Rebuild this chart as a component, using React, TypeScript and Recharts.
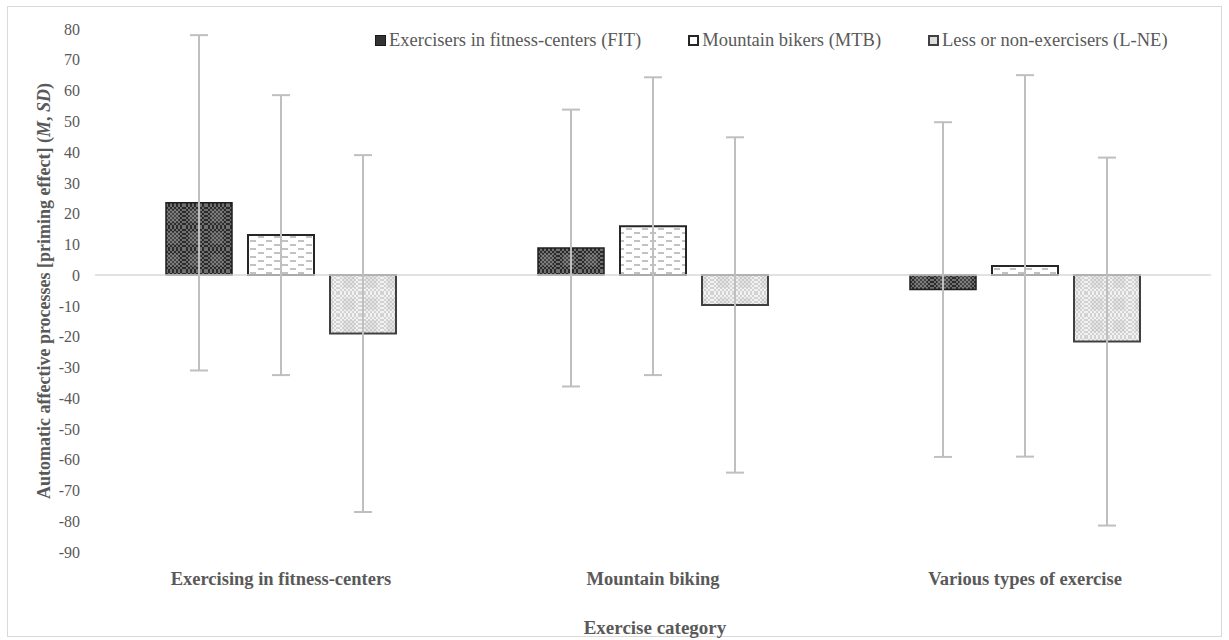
import { Bar, BarChart, ErrorBar, Legend, ReferenceLine, XAxis, YAxis } from "recharts";

const categories = ["Exercising in fitness-centers", "Mountain biking", "Various types of exercise"];

// means and standard deviations per group
const fitMeans = [23.5, 8.8, -4.7];
const fitSds = [54.5, 45, 54.4];
const mtbMeans = [13, 15.9, 3];
const mtbSds = [45.5, 48.4, 62];
const lneMeans = [-19, -9.7, -21.6];
const lneSds = [58, 54.5, 59.8];

const groupNames = [
  "Exercisers in fitness-centers (FIT)",
  "Mountain bikers (MTB)",
  "Less or non-exercisers (L-NE)",
];

const yTicks = [80, 70, 60, 50, 40, 30, 20, 10, 0, -10, -20, -30, -40, -50, -60, -70, -80, -90];

const data = categories.map((category, i) => ({
  category,
  fit: fitMeans[i],
  fitSd: fitSds[i],
  mtb: mtbMeans[i],
  mtbSd: mtbSds[i],
  lne: lneMeans[i],
  lneSd: lneSds[i],
}));

const FONT = '"Liberation Serif", "Times New Roman", serif';
const TEXT = "#595959";
const ERR = "#bfbfbf";

function Patterns() {
  return (
    <defs>
      <pattern id="fitFine" width="4" height="4" patternUnits="userSpaceOnUse">
        <rect width="4" height="4" fill="#2a2a2a" />
        <rect width="2" height="2" fill="#707070" />
        <rect x="2" y="2" width="2" height="2" fill="#707070" />
      </pattern>
      <pattern id="fitPat" width="22" height="22" patternUnits="userSpaceOnUse">
        <rect width="22" height="22" fill="url(#fitFine)" />
        <rect x="5" y="5" width="12" height="12" fill="#b0b0b0" fillOpacity="0.2" />
      </pattern>
      <pattern id="mtbPat" width="16" height="8" patternUnits="userSpaceOnUse">
        <rect width="16" height="8" fill="#ffffff" />
        <line x1="2" y1="2" x2="8" y2="2" stroke="#a0a0a0" strokeWidth="1.3" />
        <line x1="10" y1="6" x2="16" y2="6" stroke="#a0a0a0" strokeWidth="1.3" />
      </pattern>
      <pattern id="lneFine" width="4" height="4" patternUnits="userSpaceOnUse">
        <rect width="4" height="4" fill="#f2f2f2" />
        <rect width="2" height="2" fill="#d2d2d2" />
        <rect x="2" y="2" width="2" height="2" fill="#d2d2d2" />
      </pattern>
      <pattern id="lnePat" width="22" height="22" patternUnits="userSpaceOnUse">
        <rect width="22" height="22" fill="url(#lneFine)" />
        <rect x="5" y="5" width="12" height="12" fill="#a8a8a8" fillOpacity="0.18" />
      </pattern>
    </defs>
  );
}

function YTitle() {
  return (
    <text
      x={36}
      y={284}
      transform="rotate(-90 36 284)"
      textAnchor="middle"
      dominantBaseline="central"
      fontFamily={FONT}
      fontSize={18}
      fontWeight={700}
      fill={TEXT}
    >
      Automatic affective processes [priming effect] (<tspan fontStyle="italic">M</tspan>,{" "}
      <tspan fontStyle="italic">SD</tspan>)
    </text>
  );
}

function XTitle() {
  return (
    <text
      x={647}
      y={620}
      textAnchor="middle"
      dominantBaseline="central"
      fontFamily={FONT}
      fontSize={19}
      fontWeight={700}
      fill={TEXT}
    >
      Exercise category
    </text>
  );
}

const legendIcons = [
  { background: "#333333", border: "1px solid #1a1a1a" },
  { background: "#ffffff", border: "2px solid #262626" },
  { background: "#dddddd", border: "2px solid #404040" },
];

function LegendRow() {
  return (
    <div style={{ display: "flex", gap: 47, fontFamily: FONT, fontSize: 18.5, color: TEXT, whiteSpace: "nowrap" }}>
      {groupNames.map((name, i) => (
        <span key={name} style={{ display: "inline-flex", alignItems: "center", gap: 3 }}>
          <span
            style={{
              display: "inline-block",
              width: 11,
              height: 11,
              boxSizing: "border-box",
              ...legendIcons[i],
            }}
          />
          {name}
        </span>
      ))}
    </div>
  );
}

export default function App() {
  return (
    <div
      style={{
        position: "absolute",
        left: 7,
        top: 6,
        width: 1215,
        height: 631,
        border: "1px solid #d9d9d9",
        boxSizing: "border-box",
        background: "#fff",
      }}
    >
      <BarChart
        width={1213}
        height={632}
        data={data}
        margin={{ top: 22, right: 10, bottom: 0, left: 0 }}
        barSize={66}
        barGap={16}
      >
        <Patterns />
        <XAxis
          dataKey="category"
          height={87}
          axisLine={false}
          tickLine={false}
          tickSize={0}
          tickMargin={20}
          interval={0}
          tick={{ fontFamily: FONT, fontSize: 18.5, fontWeight: 700, fill: TEXT }}
          label={<XTitle />}
        />
        <YAxis
          type="number"
          domain={[-90, 80]}
          ticks={yTicks}
          interval={0}
          width={87}
          axisLine={false}
          tickLine={false}
          tickSize={0}
          tickMargin={15}
          tick={{ fontFamily: FONT, fontSize: 16, fill: TEXT }}
          label={<YTitle />}
        />
        <ReferenceLine y={0} stroke="#d9d9d9" strokeWidth={1.5} />
        <Legend
          layout="horizontal"
          verticalAlign="middle"
          align="center"
          wrapperStyle={{ top: 23, left: 367, width: "auto" }}
          content={() => <LegendRow />}
        />
        <Bar dataKey="fit" name={groupNames[0]} fill="url(#fitPat)" stroke="#1f1f1f" strokeWidth={1.5} isAnimationActive={false}>
          <ErrorBar dataKey="fitSd" width={9} stroke={ERR} strokeWidth={2} direction="y" isAnimationActive={false} />
        </Bar>
        <Bar dataKey="mtb" name={groupNames[1]} fill="url(#mtbPat)" stroke="#262626" strokeWidth={2} isAnimationActive={false}>
          <ErrorBar dataKey="mtbSd" width={9} stroke={ERR} strokeWidth={2} direction="y" isAnimationActive={false} />
        </Bar>
        <Bar dataKey="lne" name={groupNames[2]} fill="url(#lnePat)" stroke="#404040" strokeWidth={2} isAnimationActive={false}>
          <ErrorBar dataKey="lneSd" width={9} stroke={ERR} strokeWidth={2} direction="y" isAnimationActive={false} />
        </Bar>
      </BarChart>
    </div>
  );
}
